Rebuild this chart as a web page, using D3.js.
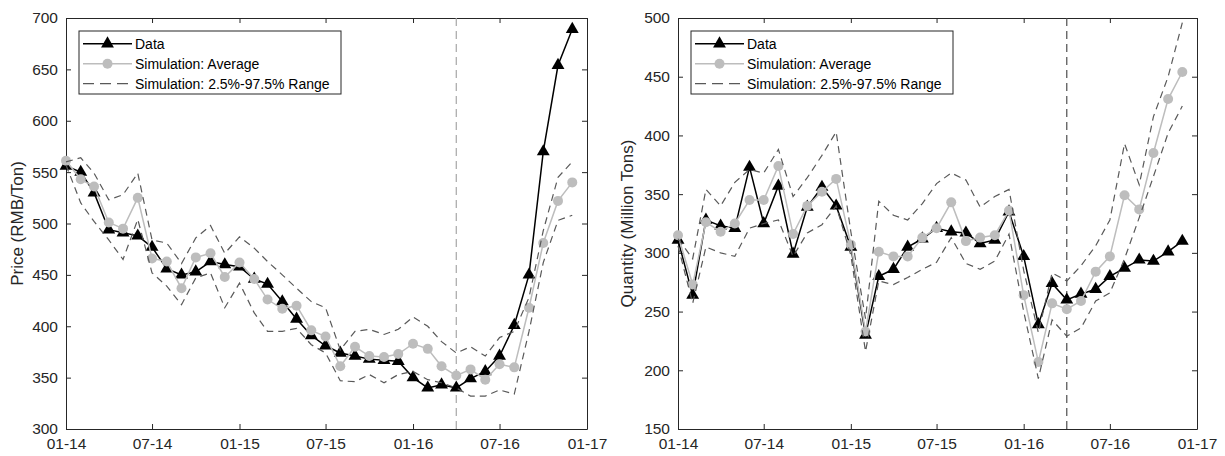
<!DOCTYPE html>
<html><head><meta charset="utf-8">
<script src="https://cdn.jsdelivr.net/npm/d3@7"></script>
<style>
html,body{margin:0;padding:0;background:#fff;}
svg{display:block;font-family:"Liberation Sans",Arial,Helvetica,sans-serif;}
</style></head>
<body>
<svg id="chart" width="1225" height="456"></svg>
<script>
// ---------- data ----------
const startYear = 2014, nMonths = 36;
const xTickLabels = ["01-14","07-14","01-15","07-15","01-16","07-16","01-17"];
const legendLabels = ["Data","Simulation: Average","Simulation: 2.5%-97.5% Range"];
const priceTicks = [300,350,400,450,500,550,600,650,700];
const qtyTicks = [150,200,250,300,350,400,450,500];
const splitMonth = 27; // April 2016

const priceData  = [556,550,530,494,491,488,477,456,450,453,463,460,458,446,441,424,407,391,381,374,371,368,367,366,350,340,343,340,349,356,371,401,450,570,654,689];
const priceAvg   = [561,543,536,501,495,525,466,463,437,467,471,448,462,446,426,417,420,396,390,361,380,371,370,373,383,378,361,352,358,348,363,360,418,481,522,540];
const priceUpper = [560,564,549,523,528,549,484,481,461,486,498,471,487,476,463,450,437,424,418,377,395,397,392,397,409,400,385,374,380,371,389,395,428,493,545,560];
const priceLower = [557,520,502,484,465,504,452,439,421,447,452,418,442,413,395,395,398,382,374,347,346,353,345,353,356,348,345,340,332,332,338,334,395,462,503,508];

const qtyData  = [311,264,328,323,321,373,325,357,299,339,356,340,305,230,280,286,305,312,321,318,317,308,311,335,297,239,274,260,265,269,280,287,294,293,301,310];
const qtyAvg   = [315,273,326,318,325,345,345,374,316,340,352,363,307,233,301,297,297,313,321,343,310,313,315,336,264,207,257,252,259,284,297,349,337,385,431,454];
const qtyUpper = [312,295,354,340,360,371,368,388,348,364,383,403,318,244,344,332,328,342,359,368,362,339,348,354,285,232,283,276,289,306,328,393,358,416,450,496];
const qtyLower = [306,257,305,300,297,321,325,328,297,317,324,340,298,216,276,273,279,286,292,313,291,286,293,316,250,193,243,229,236,259,266,295,330,365,402,425];

// ---------- drawing ----------
const svg = d3.select("#chart");
const dates = d3.range(nMonths).map(i => new Date(startYear, i, 1));
const tickDates = d3.range(xTickLabels.length).map(i => new Date(startYear, i*6, 1));
const axisColor = "#262626";

function panel(cfg){
  const {left,right,top,bottom,yDomain,yTicks,data,avg,upper,lower,ylabel,ylabelX,vlineColor} = cfg;
  const g = svg.append("g");
  const x = d3.scaleTime().domain([new Date(startYear,0,1), new Date(startYear+3,0,1)]).range([left,right]);
  const y = d3.scaleLinear().domain(yDomain).range([bottom,top]);

  // axes (box with inward ticks)
  const ax = g.append("g").attr("class","axes");
  const xb = ax.append("g").attr("transform",`translate(0,${bottom})`)
    .call(d3.axisBottom(x).tickValues(tickDates).tickSizeInner(-5).tickSizeOuter(0).tickPadding(9)
      .tickFormat((d,i)=>xTickLabels[i]));
  const xt = ax.append("g").attr("transform",`translate(0,${top})`)
    .call(d3.axisTop(x).tickValues(tickDates).tickSizeInner(-5).tickSizeOuter(0).tickFormat(""));
  const yl = ax.append("g").attr("transform",`translate(${left},0)`)
    .call(d3.axisLeft(y).tickValues(yTicks).tickSizeInner(-5).tickSizeOuter(0).tickPadding(8).tickFormat(d3.format("d")));
  const yr = ax.append("g").attr("transform",`translate(${right},0)`)
    .call(d3.axisRight(y).tickValues(yTicks).tickSizeInner(-5).tickSizeOuter(0).tickFormat(""));
  ax.selectAll("path.domain").attr("stroke",axisColor).attr("stroke-width",1);
  ax.selectAll(".tick line").attr("stroke",axisColor).attr("stroke-width",1);
  ax.selectAll(".tick text").attr("fill",axisColor).style("font-size","15.5px")
    .style("font-family","'Liberation Sans',Arial,sans-serif");

  g.append("text").attr("transform",`translate(${ylabelX},${(top+bottom)/2}) rotate(-90)`)
    .attr("text-anchor","middle").attr("dominant-baseline","central")
    .attr("fill",axisColor).style("font-size","17px").text(ylabel);

  // vertical split line
  g.append("line").attr("x1",x(dates[splitMonth])).attr("x2",x(dates[splitMonth]))
    .attr("y1",top).attr("y2",bottom).attr("stroke",vlineColor).attr("stroke-width",1.2)
    .attr("stroke-dasharray","8,5");

  const line = d3.line().x((d,i)=>x(dates[i])).y(d=>y(d));
  // data
  g.append("path").datum(data).attr("d",line).attr("fill","none").attr("stroke","#000").attr("stroke-width",1.5);
  const tri = d3.symbol().type(d3.symbolTriangle).size(72);
  g.selectAll("path.tri").data(data).enter().append("path").attr("class","tri")
    .attr("d",tri).attr("transform",(d,i)=>`translate(${x(dates[i])},${y(d)})`).attr("fill","#000");
  // average
  g.append("path").datum(avg).attr("d",line).attr("fill","none").attr("stroke","#bdbdbd").attr("stroke-width",1.5);
  g.selectAll("circle.avg").data(avg).enter().append("circle").attr("class","avg")
    .attr("cx",(d,i)=>x(dates[i])).attr("cy",d=>y(d)).attr("r",5).attr("fill","#bdbdbd");
  // range
  [upper,lower].forEach(arr=>{
    g.append("path").datum(arr).attr("d",line).attr("fill","none").attr("stroke","#595959")
      .attr("stroke-width",1.2).attr("stroke-dasharray","7,5");
  });

  // legend
  const lx = left+13, ly = top+13, lw = 262, lh = 63;
  const lg = g.append("g");
  lg.append("rect").attr("x",lx).attr("y",ly).attr("width",lw).attr("height",lh)
    .attr("fill","#fff").attr("stroke",axisColor).attr("stroke-width",1);
  const rows = [ly+12.7, ly+32.7, ly+52.7];
  const sx1 = lx+4, sx2 = lx+53, sm = (sx1+sx2)/2;
  lg.append("line").attr("x1",sx1).attr("x2",sx2).attr("y1",rows[0]).attr("y2",rows[0]).attr("stroke","#000").attr("stroke-width",1.5);
  lg.append("path").attr("d",tri).attr("transform",`translate(${sm},${rows[0]})`).attr("fill","#000");
  lg.append("line").attr("x1",sx1).attr("x2",sx2).attr("y1",rows[1]).attr("y2",rows[1]).attr("stroke","#bdbdbd").attr("stroke-width",1.5);
  lg.append("circle").attr("cx",sm).attr("cy",rows[1]).attr("r",5).attr("fill","#bdbdbd");
  lg.append("line").attr("x1",sx1).attr("x2",sx2).attr("y1",rows[2]).attr("y2",rows[2]).attr("stroke","#595959").attr("stroke-width",1.2).attr("stroke-dasharray","11,6");
  legendLabels.forEach((t,i)=>{
    lg.append("text").attr("x",lx+56).attr("y",rows[i]).attr("dominant-baseline","central")
      .attr("fill","#000").style("font-size","14px").text(t);
  });
}

panel({left:66,right:587,top:18,bottom:429,yDomain:[300,700],yTicks:priceTicks,
  data:priceData,avg:priceAvg,upper:priceUpper,lower:priceLower,
  ylabel:"Price (RMB/Ton)",ylabelX:17,vlineColor:"#a6a6a6"});
panel({left:678,right:1197,top:18,bottom:429,yDomain:[150,500],yTicks:qtyTicks,
  data:qtyData,avg:qtyAvg,upper:qtyUpper,lower:qtyLower,
  ylabel:"Quantity (Million Tons)",ylabelX:627,vlineColor:"#4d4d4d"});
</script>
</body></html>
